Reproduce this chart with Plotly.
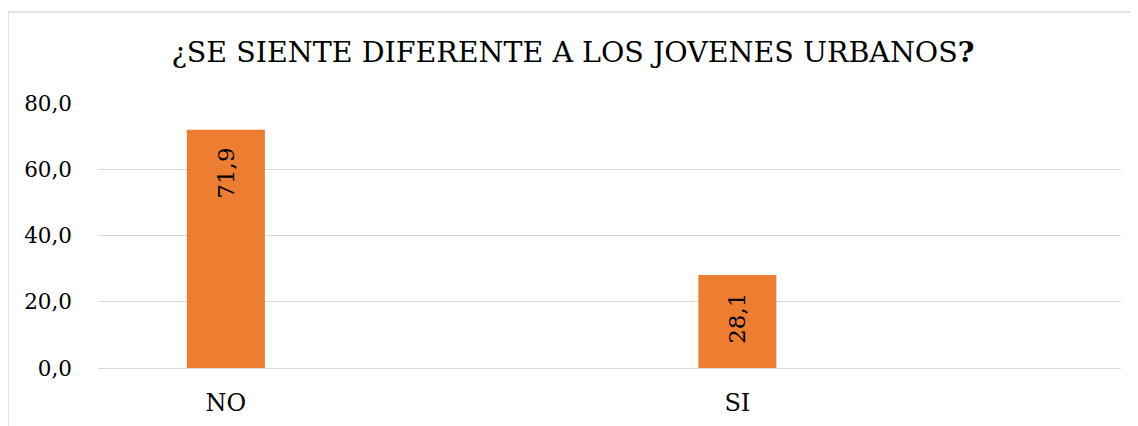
import plotly.graph_objects as go

TITLE = "¿SE SIENTE DIFERENTE A LOS JOVENES URBANOS<b>?</b>"
# category slots (blank slots reproduce the original's spacing)
CATEGORIES = ["NO", "_gap1", "SI", "_gap2"]
LABELED = ["NO", "SI"]
VALUES = [71.9, 28.1]
Y_TICKS = [0, 20, 40, 60, 80]

FONT = "DejaVu Serif"

fig = go.Figure()
fig.add_trace(go.Bar(
    x=LABELED,
    y=VALUES,
    marker=dict(color="#ED7D31", line=dict(width=0)),
    width=0.305,
    text=VALUES,
    texttemplate="%{y:.1f}\u00a0\u00a0",
    textposition="inside",
    insidetextanchor="end",
    textangle=-90,
    textfont=dict(family=FONT, size=23, color="#000000"),
    hoverinfo="skip",
))

fig.update_layout(
    width=1130, height=418,
    separators=",.",
    font=dict(family=FONT),
    paper_bgcolor="white", plot_bgcolor="white",
    margin=dict(l=90, r=17, t=95, b=58),
    showlegend=False,
    title=dict(text=TITLE, x=0.5, xanchor="center", xref="container",
               y=1 - 44/418, yanchor="middle",
               font=dict(family=FONT, size=28.5, color="#000000")),
    xaxis=dict(type="category", categoryorder="array", categoryarray=CATEGORIES,
               range=[-0.5, len(CATEGORIES) - 0.5],
               tickvals=LABELED, ticktext=LABELED, automargin=False,
               showgrid=False, showline=False, zeroline=False, ticks="",
               ticklabelstandoff=18,
               tickfont=dict(family=FONT, size=24, color="#000000")),
    yaxis=dict(range=[0, 80], tickvals=Y_TICKS, tickformat=".1f", automargin=False,
               showgrid=True, gridcolor="#d9d9d9", gridwidth=1.3,
               zeroline=True, zerolinecolor="#d9d9d9", zerolinewidth=1.3,
               showline=False, ticks="", ticklabelstandoff=25,
               tickfont=dict(family=FONT, size=21.5, color="#000000")),
    shapes=[dict(type="rect", xref="paper", yref="paper",
                 x0=(8 - 98) / 1023, x1=1.1, y0=-0.5, y1=(368 - 12) / 265,
                 line=dict(color="#d9d9d9", width=1.5), fillcolor="rgba(0,0,0,0)",
                 layer="below")],
)

fig.write_html("out.html")
